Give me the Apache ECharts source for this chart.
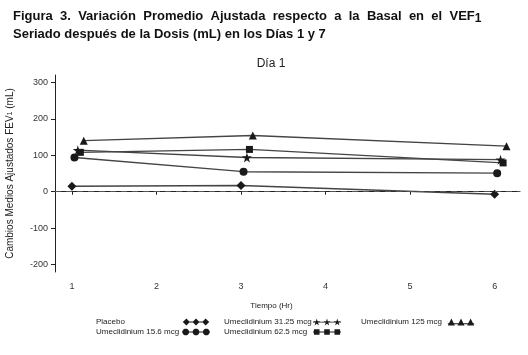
<!DOCTYPE html>
<html><head><meta charset="utf-8">
<script src="https://cdn.jsdelivr.net/npm/echarts@6/dist/echarts.min.js"></script>
<style>html,body{margin:0;padding:0;background:#fff}#c{width:528px;height:355px}</style>
</head><body><div id="c"></div>
<script>
const times = [1, 3, 6];
const seriesNames = ['Placebo', 'Umeclidinium 15.6 mcg', 'Umeclidinium 31.25 mcg', 'Umeclidinium 62.5 mcg', 'Umeclidinium 125 mcg'];
const placebo = [15, 17, -7];
const umec15 = [94, 55, 51];
const umec31 = [114, 94, 88];
const umec62 = [108, 116, 79];
const umec125 = [140, 154, 125];
const xTicks = [1, 2, 3, 4, 5, 6];
const yTicks = [-200, -100, 0, 100, 200, 300];
const dodge = [0, 0.03, 0.07, 0.1, 0.14];

const values = [placebo, umec15, umec31, umec62, umec125];
const STAR = 'path://M50,0 L61,35 L98,35 L68,57 L79,91 L50,70 L21,91 L32,57 L2,35 L39,35 Z';
const symbols = ['diamond', 'circle', STAR, 'rect', 'triangle'];
const symSizes = [9, 8, 10, 7, 8];

function starAt(cx) {
  const pts = [[50,0],[61,35],[98,35],[68,57],[79,91],[50,70],[21,91],[32,57],[2,35],[39,35]];
  return 'M' + pts.map(p => (cx - 4 + p[0] * 0.08).toFixed(2) + ' ' + (p[1] * 0.08 + 0.2).toFixed(2)).join('L') + 'Z';
}
function circleAt(cx) {
  const n = 20, r = 3.6, pts = [];
  for (let k = 0; k < n; k++) {
    const a = 2 * Math.PI * k / n;
    pts.push((cx + r * Math.cos(a)).toFixed(2) + ' ' + (4 + r * Math.sin(a)).toFixed(2));
  }
  return 'M' + pts.join('L') + 'Z';
}
const LINE = 'M0 3.5H30V4.5H0Z';
const icons = [
  'path://' + LINE + [4, 15, 26].map(c => `M${c-4} 4L${c} 0L${c+4} 4L${c} 8Z`).join(''),
  'path://' + LINE + [4, 15, 26].map(c => circleAt(c)).join(''),
  'path://' + LINE + [4, 15, 26].map(c => starAt(c)).join(''),
  'path://' + LINE + [4, 15, 26].map(c => `M${c-3} 1H${c+3}V7H${c-3}Z`).join(''),
  'path://' + 'M0 5.5H30V6.5H0Z' + [4, 15, 26].map(c => `M${c-4} 8L${c} 0L${c+4} 8Z`).join('')
];

const legendPos = [
  {left: 96, top: 318, w: 81},
  {left: 96, top: 328, w: 81},
  {left: 224, top: 318, w: 84},
  {left: 224, top: 328, w: 84},
  {left: 361, top: 318, w: 81}
];

const series = seriesNames.map((name, i) => ({
  name: name,
  type: 'line',
  data: times.map((t, j) => [t + dodge[i], values[i][j]]),
  symbol: symbols[i],
  symbolSize: symSizes[i],
  showSymbol: true,
  color: '#1a1a1a',
  itemStyle: {color: '#1a1a1a'},
  lineStyle: {color: '#444', width: 1.4},
  z: 3,
  markLine: i === 0 ? {
    silent: true, symbol: 'none', label: {show: false},
    lineStyle: {type: [6, 5], color: '#555', width: 1},
    data: [{yAxis: 0}]
  } : undefined
}));

const chart = echarts.init(document.getElementById('c'), null, {renderer: 'canvas'});
chart.setOption({
  backgroundColor: '#fff',
  animation: false,
  title: [{
    text: 'Figura{s| }3.{s| }Variación{s| }Promedio{s| }Ajustada{s| }respecto{s| }a{s| }la{s| }Basal{s| }en{s| }el{s| }VEF{sub|1}\nSeriado después de la Dosis (mL) en los Días 1 y 7',
    left: 8, top: 2,
    textStyle: {
      fontFamily: 'Liberation Sans', fontSize: 13, fontWeight: 'bold', color: '#111', lineHeight: 18,
      rich: {
        s: {width: 7.3, fontSize: 13, fontFamily: 'Liberation Sans', fontWeight: 'bold', lineHeight: 18},
        sub: {fontSize: 12, fontWeight: 'bold', fontFamily: 'Liberation Sans', color: '#111', lineHeight: 18, padding: [5, 0, 0, 0]}
      }
    }
  }, {
    text: 'Día 1', left: 266, top: 53, textAlign: 'center',
    textStyle: {fontFamily: 'Liberation Sans', fontSize: 12, fontWeight: 'normal', color: '#222'}
  }],
  legend: legendPos.map((p, i) => ({
    data: [{name: seriesNames[i], icon: icons[i]}],
    left: p.left, top: p.top,
    orient: 'horizontal', align: 'right',
    itemWidth: 28, itemHeight: 7, padding: 0,
    formatter: '{a|{name}}',
    textStyle: {
      fontFamily: 'Liberation Sans', fontSize: 8, color: '#222',
      rich: {a: {width: p.w, align: 'left', fontSize: 8, fontFamily: 'Liberation Sans', color: '#222'}}
    }
  })),
  grid: {left: 55, right: 8, top: 75, bottom: 83, outerBoundsMode: 'none'},
  xAxis: {
    type: 'value', min: 0.8, max: 6.3,
    name: 'Tiempo (Hr)', nameLocation: 'middle', nameGap: 30,
    nameTextStyle: {fontFamily: 'Liberation Sans', fontSize: 8, color: '#222', padding: [0, 32, 0, 0]},
    splitLine: {show: false},
    axisLine: {lineStyle: {color: '#222', width: 1}},
    axisTick: {show: true, length: 3, customValues: xTicks, lineStyle: {color: '#222'}},
    axisLabel: {customValues: xTicks, fontFamily: 'Liberation Sans', fontSize: 9, color: '#333', margin: 10}
  },
  yAxis: {
    type: 'value', min: -220, max: 320,
    name: 'Cambios Medios Ajustados FEV{sub|1} (mL)', nameLocation: 'middle', nameGap: 40, nameRotate: 90,
    nameTextStyle: {fontFamily: 'Liberation Sans', fontSize: 10, color: '#222',
      rich: {sub: {fontSize: 7, fontFamily: 'Liberation Sans', color: '#222'}}},
    splitLine: {show: false},
    axisLine: {show: true, lineStyle: {color: '#222', width: 1}},
    axisTick: {show: true, length: 4, customValues: yTicks, lineStyle: {color: '#222'}},
    axisLabel: {customValues: yTicks, fontFamily: 'Liberation Sans', fontSize: 9, color: '#333', margin: 7}
  },
  series: series
});
</script>
</body></html>
